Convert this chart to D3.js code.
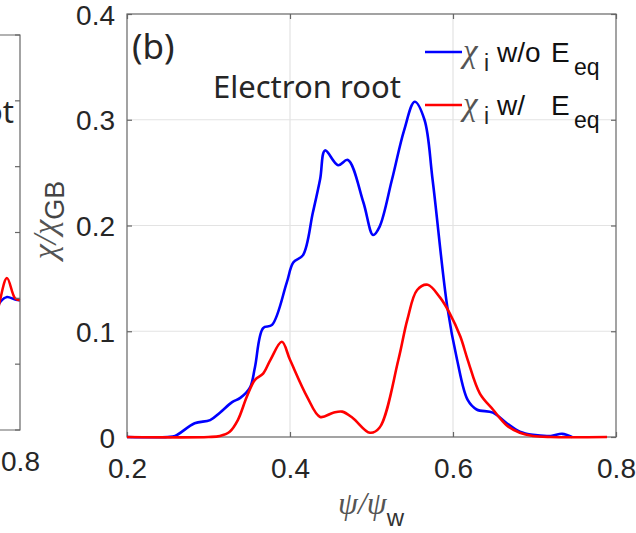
<!DOCTYPE html>
<html>
<head>
<meta charset="utf-8">
<script src="https://cdn.jsdelivr.net/npm/d3@7"></script>
<style>
  html, body { margin: 0; padding: 0; background: #fff; }
  svg { display: block; }
  text { font-family: "Liberation Sans", Arial, sans-serif; fill: #262626; }
</style>
</head>
<body>
<svg id="chart" width="636" height="533"></svg>
<script>
// ---------- data (panel b) ----------
const psiWo = [0.20,0.25,0.259,0.283,0.302,0.314,0.329,0.339,0.351,0.357,0.367,0.378,0.396,0.404,0.416,0.428,0.437,0.443,0.459,0.471,0.490,0.502,0.510,0.525,0.540,0.553,0.565,0.575,0.593,0.605,0.618,0.629,0.649,0.666,0.682,0.698,0.720,0.734,0.746];
const chiWo = [0,0,0.001,0.013,0.016,0.023,0.033,0.037,0.047,0.066,0.103,0.106,0.146,0.165,0.172,0.212,0.244,0.271,0.257,0.262,0.222,0.191,0.199,0.243,0.290,0.317,0.300,0.243,0.123,0.073,0.035,0.026,0.023,0.013,0.005,0.002,0.001,0.003,0];

const psiW = [0.20,0.30,0.314,0.326,0.336,0.347,0.357,0.367,0.376,0.390,0.400,0.421,0.437,0.453,0.464,0.477,0.498,0.510,0.533,0.544,0.556,0.569,0.584,0.596,0.609,0.618,0.633,0.649,0.666,0.682,0.698,0.720,0.789];
const chiW = [0,0,0.001,0.005,0.016,0.038,0.054,0.060,0.073,0.090,0.073,0.038,0.019,0.023,0.024,0.018,0.004,0.009,0.073,0.111,0.139,0.144,0.132,0.117,0.095,0.073,0.041,0.026,0.011,0.004,0.001,0,0];

// ---------- data (edge of panel a, visible at the left) ----------
const psiA    = [0.770,0.7755,0.784,0.794,0.800];
const chiAWo  = [0.175,0.194,0.202,0.198,0.197];
const chiAW   = [0.160,0.197,0.231,0.200,0.197];

const xTicks = [0.2,0.4,0.6,0.8];
const yTicks = [0,0.1,0.2,0.3,0.4];
const yTicksA = [0,0.1,0.2,0.3,0.4,0.5,0.6];

const svg = d3.select("#chart");
const curve = d3.curveCatmullRom.alpha(0.5);

// ---------- panel a (fragment) ----------
const xA = d3.scaleLinear().domain([0.2,0.8]).range([20-489,20]);
const yA = d3.scaleLinear().domain([0,0.6]).range([430,35]);
const gA = svg.append("g");
gA.append("text").attr("x",14).attr("y",123).attr("text-anchor","end")
  .style("font-family","'Noto Sans', sans-serif").style("font-size","31px").text("Ion root");
const lineA = (vals) => d3.line().x((d,i)=>xA(psiA[i])).y(d=>yA(d)).curve(curve)(vals);
gA.append("path").attr("d",lineA(chiAWo)).attr("fill","none").attr("stroke","#0000ff").attr("stroke-width",2.5);
gA.append("path").attr("d",lineA(chiAW)).attr("fill","none").attr("stroke","#ff0000").attr("stroke-width",2.5);
gA.append("path").attr("d",`M${xA(0.2)},${yA(0.6)}H${xA(0.8)}V${yA(0)}H${xA(0.2)}`)
  .attr("fill","none").attr("stroke","#666").attr("stroke-width",1.2);
gA.selectAll(".tA").data(yTicksA).join("line")
  .attr("x1",xA(0.8)).attr("x2",xA(0.8)-5).attr("y1",d=>yA(d)).attr("y2",d=>yA(d))
  .attr("stroke","#666").attr("stroke-width",1.2);
gA.append("g").attr("transform",`translate(0,${yA(0)})`)
  .call(d3.axisBottom(xA).tickValues([0.8]).tickSize(0).tickPadding(21).tickFormat(d3.format(".1f")))
  .call(g=>g.select(".domain").remove())
  .call(g=>g.selectAll("text").style("font-size","28px").style("font-family","'Liberation Sans', Arial, sans-serif").attr("fill","#262626"));

// ---------- panel b ----------
const x = d3.scaleLinear().domain([0.2,0.8]).range([127,616]);
const y = d3.scaleLinear().domain([0,0.4]).range([437,14]);

// grid
svg.append("g").selectAll("line").data(xTicks.slice(1,-1)).join("line")
  .attr("x1",d=>x(d)).attr("x2",d=>x(d)).attr("y1",y(0)).attr("y2",y(0.4))
  .attr("stroke","#e3e3e3").attr("stroke-width",1.2);
svg.append("g").selectAll("line").data(yTicks.slice(1,-1)).join("line")
  .attr("x1",x(0.2)).attr("x2",x(0.8)).attr("y1",d=>y(d)).attr("y2",d=>y(d))
  .attr("stroke","#e3e3e3").attr("stroke-width",1.2);

const fmt = d => d===0 ? "0" : d3.format(".1f")(d);
const styleAxis = g => {
  g.select(".domain").remove();
  g.selectAll(".tick line").attr("stroke","#666").attr("stroke-width",1.2);
  g.selectAll("text").style("font-size","28px").style("font-family","'Liberation Sans', Arial, sans-serif").attr("fill","#262626");
};
svg.append("g").attr("transform",`translate(${x(0.2)},0)`)
  .call(d3.axisLeft(y).tickValues(yTicks).tickSizeInner(-5).tickSizeOuter(0).tickPadding(12).tickFormat(fmt)).call(styleAxis)
  .call(g=>g.selectAll("text").attr("dy","0.36em"));
svg.append("g").attr("transform",`translate(${x(0.8)},0)`)
  .call(d3.axisRight(y).tickValues(yTicks).tickSizeInner(-5).tickSizeOuter(0).tickFormat("")).call(styleAxis);
svg.append("g").attr("transform",`translate(0,${y(0)})`)
  .call(d3.axisBottom(x).tickValues(xTicks).tickSizeInner(-5).tickSizeOuter(0).tickPadding(21).tickFormat(d3.format(".1f"))).call(styleAxis);
svg.append("g").attr("transform",`translate(0,${y(0.4)})`)
  .call(d3.axisTop(x).tickValues(xTicks).tickSizeInner(-5).tickSizeOuter(0).tickFormat("")).call(styleAxis);

// box
svg.append("rect").attr("x",x(0.2)).attr("y",y(0.4)).attr("width",x(0.8)-x(0.2)).attr("height",y(0)-y(0.4))
  .attr("fill","none").attr("stroke","#666").attr("stroke-width",1.2);

// curves
const line = (xs, ys) => d3.line().x((d,i)=>x(xs[i])).y(d=>y(Math.max(0,d))).curve(curve)(ys);
svg.append("path").attr("d",line(psiWo,chiWo)).attr("fill","none").attr("stroke","#0000ff").attr("stroke-width",2.6);
svg.append("path").attr("d",line(psiW,chiW)).attr("fill","none").attr("stroke","#ff0000").attr("stroke-width",2.6);

// annotations
svg.append("text").attr("x",132).attr("y",59).style("font-family","'Noto Sans', sans-serif").style("font-size","35px").text("(b)");
svg.append("text").attr("x",213).attr("y",98).style("font-family","'Noto Sans', sans-serif").style("font-size","31px").text("Electron root");

// legend
const legend = [
  {color:"#0000ff", y:52, label:"w/o"},
  {color:"#ff0000", y:105, label:"w/"}
];
legend.forEach(l => {
  svg.append("line").attr("x1",425).attr("x2",462).attr("y1",l.y).attr("y2",l.y)
    .attr("stroke",l.color).attr("stroke-width",2.5);
  const t = svg.append("text").attr("y",l.y+10);
  t.append("tspan").attr("x",463).style("font-family","'Liberation Serif', serif").style("font-style","italic")
    .style("font-size","33px").attr("fill","#555").text("χ");
  t.append("tspan").attr("x",484).attr("dy",9).style("font-size","23px").attr("fill","#262626").text("i");
  t.append("tspan").attr("x",497).attr("dy",-9).style("font-size","28px").attr("fill","#111").text(l.label);
  t.append("tspan").attr("x",551).style("font-size","28px").attr("fill","#111").text("E");
  t.append("tspan").attr("x",574).attr("dy",13).style("font-size","23px").attr("fill","#111").text("eq");
});

// axis labels
const yl = svg.append("text").attr("transform","translate(56,220) rotate(-90)").attr("text-anchor","middle");
yl.append("tspan").style("font-family","'Liberation Serif', serif").style("font-style","italic").style("font-size","34px").attr("fill","#555").text("χ/χ");
yl.append("tspan").attr("dy",8).style("font-size","27px").attr("fill","#444").text("GB");

const xl = svg.append("text").attr("transform","translate(371,514)").attr("text-anchor","middle");
xl.append("tspan").style("font-family","'Liberation Serif', serif").style("font-style","italic").style("font-size","32px").attr("fill","#555").text("ψ/ψ");
xl.append("tspan").attr("dy",12).style("font-size","24px").attr("fill","#333").text("w");
</script>
</body>
</html>
